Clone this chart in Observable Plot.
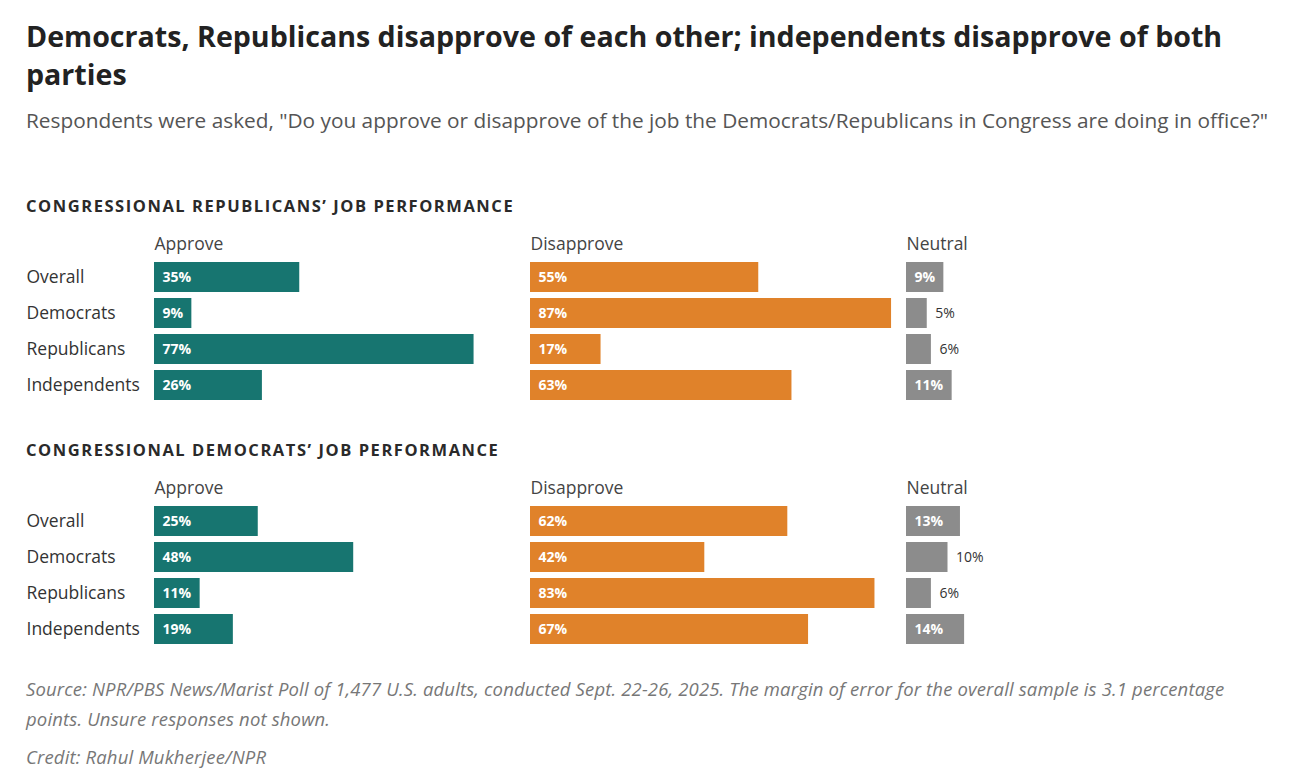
<!DOCTYPE html>
<html>
<head>
<meta charset="utf-8">
<script src="https://cdn.jsdelivr.net/npm/d3@7"></script>
<script src="https://cdn.jsdelivr.net/npm/@observablehq/plot@0.6"></script>
<style>
  body { margin: 0; background: #fff; font-family: "Open Sans", Roboto, sans-serif; }
  #page { position: relative; width: 1291px; height: 770px; overflow: hidden; }
  .t { position: absolute; left: 26px; white-space: nowrap; }
  #title { top: 17px; font-size: 28.6px; line-height: 38px; font-weight: 700; color: #222; }
  #subtitle { top: 106px; font-size: 20.8px; line-height: 28px; color: #555; }
  .head { font-size: 16.5px; line-height: 24px; font-weight: 700; letter-spacing: 1.55px; color: #2a2a2a; text-transform: uppercase; }
  #head1 { top: 194px; }
  #head2 { top: 438px; }
  #notes { top: 674px; font-size: 18.5px; line-height: 30px; font-style: italic; color: #777; letter-spacing: 0.15px; }
  #credit { top: 742px; font-size: 18.5px; line-height: 30px; font-style: italic; color: #777; letter-spacing: 0.15px; }
  .panel { position: absolute; left: 0; }
  #panel1 { top: 226px; }
  #panel2 { top: 470px; }
</style>
</head>
<body>
<div id="page">
  <div class="t" id="title">Democrats, Republicans disapprove of each other; independents disapprove of both<br>parties</div>
  <div class="t" id="subtitle">Respondents were asked, "Do you approve or disapprove of the job the Democrats/Republicans in Congress are doing in office?"</div>
  <div class="t head" id="head1">Congressional Republicans’ job performance</div>
  <div class="panel" id="panel1"></div>
  <div class="t head" id="head2">Congressional Democrats’ job performance</div>
  <div class="panel" id="panel2"></div>
  <div class="t" id="notes">Source: NPR/PBS News/Marist Poll of 1,477 U.S. adults, conducted Sept. 22-26, 2025. The margin of error for the overall sample is 3.1 percentage<br>points. Unsure responses not shown.</div>
  <div class="t" id="credit">Credit: Rahul Mukherjee/NPR</div>
</div>
<script>
// Respondent groups (rows) and answer columns
const groups = ["Overall", "Democrats", "Republicans", "Independents"];
const answers = ["Approve", "Disapprove", "Neutral"];

// Congressional Republicans' job performance (%)
const repApprove = [35, 9, 77, 26];
const repDisapprove = [55, 87, 17, 63];
const repNeutral = [9, 5, 6, 11];

// Congressional Democrats' job performance (%)
const demApprove = [25, 48, 11, 19];
const demDisapprove = [62, 42, 83, 67];
const demNeutral = [13, 10, 6, 14];

const answerColors = ["#177570", "#e0822a", "#8c8c8c"];

// layout
const W = 1291, ML = 154, MR = 9, MT = 36, MB = 2, H = 176;
const xMax = 90.6;
const facetW = (W - ML - MR) / answers.length;
const pxPer = facetW / xMax;
const font = '"Open Sans", Roboto, sans-serif';

function buildRows(approve, disapprove, neutral) {
  const series = [approve, disapprove, neutral];
  const rows = [];
  answers.forEach((a, j) => {
    groups.forEach((g, i) => {
      const v = series[j][i];
      const label = v + "%";
      // label goes inside the bar only when it has room
      const inside = v * pxPer >= 10 * label.length + 13;
      rows.push({answer: a, group: g, value: v, label, inside});
    });
  });
  return rows;
}

function panel(rows) {
  return Plot.plot({
    width: W,
    height: H,
    marginLeft: ML,
    marginRight: MR,
    marginTop: MT,
    marginBottom: MB,
    style: {fontFamily: font, fontSize: "17.5px", overflow: "visible"},
    fx: {domain: answers, padding: 0, axis: null},
    x: {domain: [0, xMax], axis: null},
    y: {domain: groups, paddingInner: 0.17, paddingOuter: 0, axis: null},
    color: {domain: answers, range: answerColors},
    marks: [
      Plot.barX(rows, {fx: "answer", y: "group", x: "value", fill: "answer"}),
      // column headers
      Plot.text(answers, {fx: d => d, text: d => d, frameAnchor: "top-left", dy: -18,
        textAnchor: "start", lineAnchor: "middle", fill: "#444", fontSize: 17.5}),
      // row labels, left of the first column
      Plot.text(groups, {fx: () => answers[0], y: d => d, text: d => d, frameAnchor: "left",
        dx: -(ML - 26), textAnchor: "start", fill: "#333", fontSize: 17.5}),
      // value labels inside the bars
      Plot.text(rows.filter(d => d.inside), {fx: "answer", y: "group", x: 0, text: "label",
        dx: 8, textAnchor: "start", fill: "#fff", fontWeight: 700, fontSize: 14}),
      // value labels beyond short bars
      Plot.text(rows.filter(d => !d.inside), {fx: "answer", y: "group", x: "value", text: "label",
        dx: 8, textAnchor: "start", fill: "#333", fontSize: 14})
    ]
  });
}

document.getElementById("panel1").append(panel(buildRows(repApprove, repDisapprove, repNeutral)));
document.getElementById("panel2").append(panel(buildRows(demApprove, demDisapprove, demNeutral)));
</script>
</body>
</html>
